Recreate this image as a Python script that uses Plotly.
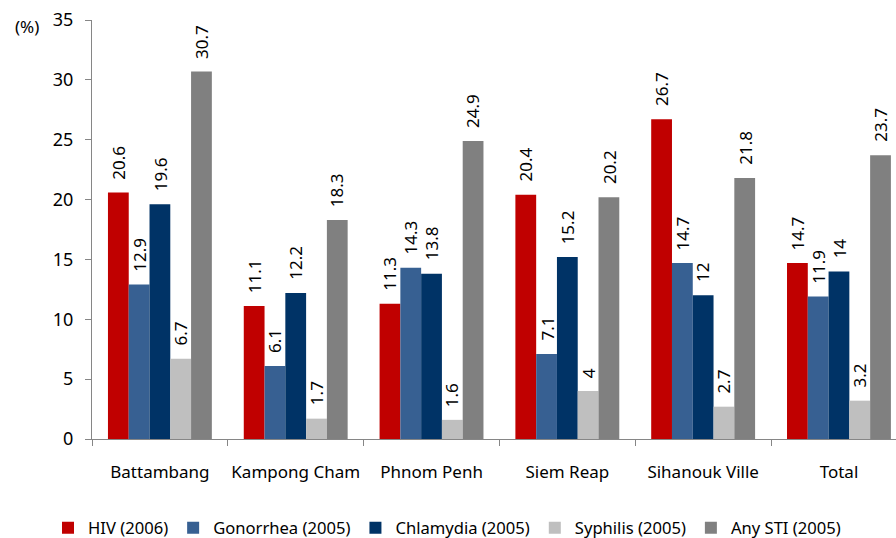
import plotly.graph_objects as go

categories = ["Battambang", "Kampong Cham", "Phnom Penh", "Siem Reap", "Sihanouk Ville", "Total"]
hiv_2006 = [20.6, 11.1, 11.3, 20.4, 26.7, 14.7]
gonorrhea_2005 = [12.9, 6.1, 14.3, 7.1, 14.7, 11.9]
chlamydia_2005 = [19.6, 12.2, 13.8, 15.2, 12, 14]
syphilis_2005 = [6.7, 1.7, 1.6, 4, 2.7, 3.2]
any_sti_2005 = [30.7, 18.3, 24.9, 20.2, 21.8, 23.7]
y_ticks = [0, 5, 10, 15, 20, 25, 30, 35]

series = [
    ("HIV (2006)", hiv_2006, "#C00000"),
    ("Gonorrhea (2005)", gonorrhea_2005, "#376092"),
    ("Chlamydia (2005)", chlamydia_2005, "#003366"),
    ("Syphilis (2005)", syphilis_2005, "#BFBFBF"),
    ("Any STI (2005)", any_sti_2005, "#808080"),
]

FONT = "Noto Sans"
BARGAP = 0.235
n_series = len(series)
bar_w = (1 - BARGAP) / n_series

fig = go.Figure()
annotations = []
for i, (name, vals, color) in enumerate(series):
    fig.add_trace(go.Bar(
        name=name,
        x=categories,
        y=vals,
        marker=dict(color=color, line=dict(width=0)),
    ))
    # vertical value labels sitting just above each bar
    offset = (i - (n_series - 1) / 2) * bar_w
    for j, v in enumerate(vals):
        annotations.append(dict(
            x=j + offset, y=v,
            xref="x", yref="y",
            text=f"{v:g}",
            textangle=-90,
            xanchor="center", yanchor="bottom",
            yshift=11,
            showarrow=False,
            font=dict(family=FONT, size=17, color="#000000"),
        ))

annotations.append(dict(
    text="(%)",
    xref="paper", yref="paper",
    x=-0.064, y=0.985,
    xanchor="right", yanchor="middle",
    showarrow=False,
    font=dict(family=FONT, size=17, color="#000000"),
))

fig.update_layout(
    barmode="group",
    bargap=BARGAP,
    bargroupgap=0,
    width=896,
    height=538,
    margin=dict(l=92, r=0, t=20, b=99),
    plot_bgcolor="white",
    paper_bgcolor="white",
    font=dict(family=FONT, size=17, color="#000000"),
    showlegend=True,
    legend=dict(
        orientation="h",
        xref="container", yref="container",
        x=48 / 896, xanchor="left",
        y=(538 - 528) / 538, yanchor="middle",
        font=dict(family=FONT, size=16.6, color="#000000"),
        traceorder="normal",
    ),
    xaxis=dict(
        type="category",
        range=[-0.5, 5.42],
        showline=True,
        linecolor="#868686",
        linewidth=1,
        ticks="outside",
        tickson="boundaries",
        ticklen=6,
        tickcolor="#868686",
        tickangle=0,
        ticklabelstandoff=18,
        showgrid=False,
        tickfont=dict(family=FONT, size=17, color="#000000"),
        fixedrange=True,
    ),
    yaxis=dict(
        range=[0, 35],
        tickvals=y_ticks,
        showline=True,
        linecolor="#868686",
        linewidth=1,
        ticks="outside",
        ticklen=6,
        tickcolor="#868686",
        ticklabelstandoff=8,
        showgrid=False,
        zeroline=False,
        tickfont=dict(family=FONT, size=18, color="#000000"),
        fixedrange=True,
    ),
    annotations=annotations,
)

fig.write_html("out.html")
